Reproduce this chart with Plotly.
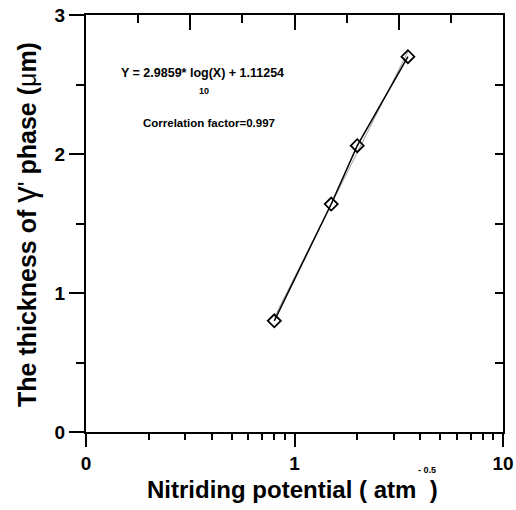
import numpy as np
import plotly.graph_objects as go

# Data
potential = [0.80, 1.50, 2.00, 3.50]          # Nitriding potential (atm^-0.5)
thickness = [0.80, 1.64, 2.06, 2.70]          # thickness of gamma' phase (um)
fit_slope = 2.9859
fit_intercept = 1.11254
x_tick_vals = [0.1, 1, 10]
x_tick_text = ["0", "1", "10"]
x_minor_vals = [0.2, 0.3, 0.4, 0.5, 0.6, 0.7, 0.8, 0.9, 2, 3, 4, 5, 6, 7, 8, 9]
y_tick_vals = [0, 1, 2, 3]

FONT = "Liberation Sans, Arial, Helvetica, sans-serif"
NARROW = "Liberation Sans Narrow, Arial Narrow, Liberation Sans, sans-serif"

fit_x = [min(potential), max(potential)]
fit_y = [fit_slope * np.log10(v) + fit_intercept for v in fit_x]

fig = go.Figure()
fig.add_trace(go.Scatter(x=fit_x, y=fit_y, mode="lines",
                         line=dict(color="#999999", width=1), showlegend=False))
fig.add_trace(go.Scatter(x=potential, y=thickness, mode="lines+markers",
                         line=dict(color="black", width=1.5),
                         marker=dict(symbol="diamond-open", size=10, color="black",
                                     line=dict(color="black", width=1.8)),
                         showlegend=False))
# helper trace for secondary (top/right) axes
fig.add_trace(go.Scatter(x=[None], y=[None], xaxis="x2", yaxis="y2",
                         mode="markers", showlegend=False, hoverinfo="skip"))

L, R, T, B = 86, 13, 15, 78
W, H = 516, 510
pw = W - L - R
ph = H - T - B

def px(xp):
    return (xp - L) / pw

def py(yp):
    return (H - B - yp) / ph

fig.update_layout(
    width=W, height=H,
    margin=dict(l=L, r=R, t=T, b=B, autoexpand=False),
    paper_bgcolor="white", plot_bgcolor="white",
    font=dict(family=FONT, color="black"),
    xaxis=dict(type="log", range=[-1, 1], tickmode="array",
               tickvals=x_tick_vals, ticktext=x_tick_text,
               ticks="outside", ticklen=13, tickwidth=1.8, tickcolor="black",
               minor=dict(tickmode="array", tickvals=x_minor_vals, ticks="outside",
                          ticklen=6, tickwidth=1.5, tickcolor="black", showgrid=False),
               showline=True, linewidth=2, linecolor="black", showgrid=False,
               zeroline=False, automargin=False,
               tickfont=dict(family=FONT, size=19, weight="bold", color="black")),
    yaxis=dict(range=[0, 3], tickmode="array", tickvals=y_tick_vals,
               ticks="outside", ticklen=15, tickwidth=1.8, tickcolor="black",
               minor=dict(dtick=0.5, ticks="outside", ticklen=8, tickwidth=1.5,
                          tickcolor="black", showgrid=False),
               showline=True, linewidth=2, linecolor="black", showgrid=False,
               zeroline=False, automargin=False,
               tickfont=dict(family=FONT, size=19, weight="bold", color="black")),
    xaxis2=dict(overlaying="x", side="top", range=[0, 8], dtick=2, tick0=0,
                ticks="inside", ticklen=15, tickwidth=1.8, tickcolor="black",
                minor=dict(dtick=1, ticks="inside", ticklen=8, tickwidth=1.5,
                           tickcolor="black", showgrid=False),
                showticklabels=False, showline=True, linewidth=2, linecolor="black",
                showgrid=False, zeroline=False, automargin=False),
    yaxis2=dict(overlaying="y", side="right", range=[0, 3], dtick=0.5, tick0=0,
                ticks="inside", ticklen=8, tickwidth=1.5, tickcolor="black",
                showticklabels=False, showline=True, linewidth=2, linecolor="black",
                showgrid=False, zeroline=False, automargin=False),
)

ann = []
# equation
ann.append(dict(xref="paper", yref="paper", x=px(202), y=py(72.5),
                text="Y = 2.9859* log(X) + 1.11254", showarrow=False,
                xanchor="center", yanchor="middle",
                font=dict(family=NARROW, size=12.5, weight="bold", color="black")))
ann.append(dict(xref="paper", yref="paper", x=px(204), y=py(91),
                text="10", showarrow=False, xanchor="center", yanchor="middle",
                font=dict(family=FONT, size=9, weight="bold", color="black")))
ann.append(dict(xref="paper", yref="paper", x=px(208.5), y=py(123),
                text="Correlation factor=0.997", showarrow=False,
                xanchor="center", yanchor="middle",
                font=dict(family=NARROW, size=11.5, weight="bold", color="black")))
# x title
ann.append(dict(xref="paper", yref="paper", x=px(145), y=py(489),
                text="Nitriding potential ( atm&nbsp;&nbsp;)", showarrow=False,
                xanchor="left", yanchor="middle",
                font=dict(family=FONT, size=24, weight="bold", color="black")))
ann.append(dict(xref="paper", yref="paper", x=px(427), y=py(470),
                text="- 0.5", showarrow=False, xanchor="center", yanchor="middle",
                font=dict(family=FONT, size=9, weight="bold", color="black")))
# y title
ann.append(dict(xref="paper", yref="paper", x=px(24), y=py(225),
                text="The thickness of <span style='font-weight:normal;font-size:33px'>γ</span><span style='font-weight:normal'>'</span> phase (<span style='font-weight:normal'>μ</span>m)",
                showarrow=False, textangle=-90, xanchor="center", yanchor="middle",
                font=dict(family=FONT, size=25, weight="bold", color="black")))
fig.update_layout(annotations=ann)

fig.write_html("out.html", config={"displayModeBar": False},
               post_script="document.body.style.margin='0';document.body.style.padding='0';")
